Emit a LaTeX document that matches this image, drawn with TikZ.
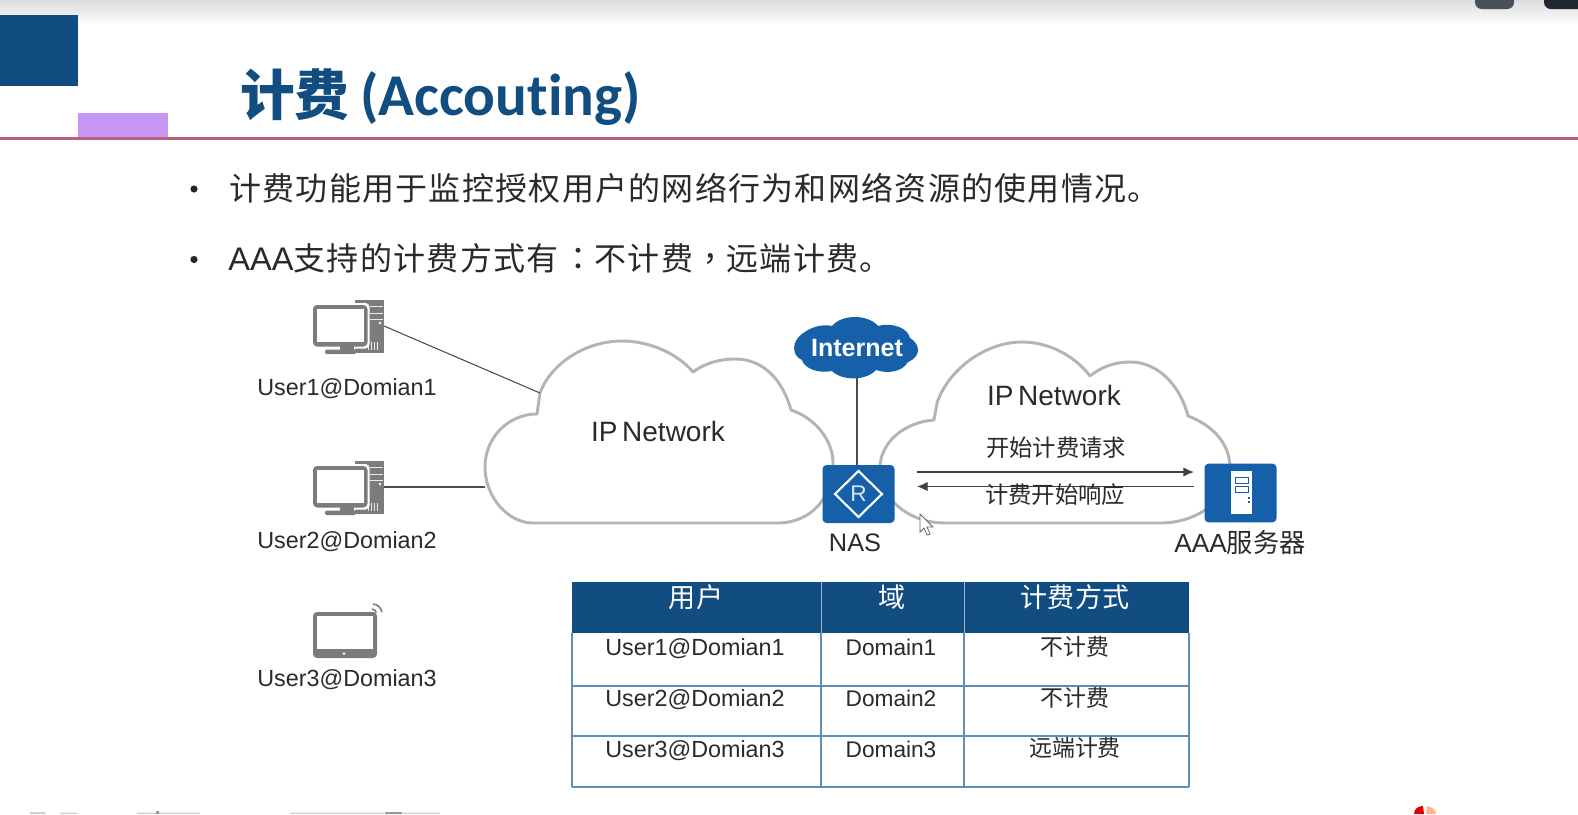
\documentclass[tikz,border=0pt]{standalone}
\usepackage{fontspec}
\setmainfont{Liberation Sans}
\newfontfamily\cjk{Noto Sans CJK SC}
\newfontfamily\cjks{Noto Sans CJK SC}[LetterSpace=4]
\newfontfamily\cjktc{Noto Sans CJK TC}[LetterSpace=4]
\newfontfamily\ttl{Carlito}[Ligatures=NoCommon]
\usetikzlibrary{arrows.meta}
\definecolor{hwblue}{HTML}{114D80}
\definecolor{iconblue}{HTML}{1560A8}
\definecolor{cloudgray}{HTML}{B4B4B4}
\definecolor{icongray}{HTML}{7C7C7C}
\definecolor{bar}{HTML}{C896F5}
\definecolor{rulecol}{HTML}{B8607E}
\definecolor{txt}{HTML}{2A2A2A}
\definecolor{tline}{HTML}{5E8DB5}
\definecolor{btna}{HTML}{4A5057}
\definecolor{btnb}{HTML}{1E2730}
\tikzset{
 lab/.style={font=\fontsize{17.5}{19}\selectfont,text=txt,inner sep=0pt},
 dom/.style={font=\fontsize{17}{19}\selectfont,text=txt,inner sep=0pt},
 cj/.style={font=\cjk\fontsize{17.2}{19}\selectfont,text=txt,inner sep=0pt},
 bul/.style={anchor=west,font=\cjks\fontsize{24}{26}\selectfont,text=txt,inner sep=0pt},
 ipn/.style={inner sep=0pt,text=txt,font=\fontsize{21}{23}\selectfont},
 cloudline/.style={draw=cloudgray,line width=2.2pt,fill=white,line join=round},
 wire/.style={draw=black!70,line width=0.8pt},
 msg/.style={draw=black!75,line width=1pt,-{Latex[length=8pt,width=7pt]}},
 tb/.style={draw=tline,line width=0.8pt},
 th/.style={font=\cjk\fontsize{20.3}{22}\selectfont,text=white,inner sep=0pt},
 foot/.style={fill=black!18},
}
\newcommand{\pcicon}[3]{%
 \begin{scope}[shift={(#1,#2)}]
  \fill[icongray] (43,0) rectangle (72,53);
  \fill[white!85!icongray] (58,6) rectangle (71,7.2);
  \fill[white!85!icongray] (58,13) rectangle (71,14.2);
  \fill[white!85!icongray] (58,19) rectangle (71,20);
  \fill[white] (68,23) circle (1.3);
  \foreach \s in {56,59,62,65} \fill[white!85!icongray] (\s,42) rectangle (\s+1.2,50);
  \fill[white,rounded corners=3pt] (-1,3) rectangle (57.5,48.5);
  \fill[icongray,rounded corners=3pt] (1,5) rectangle (55.5,46.5);
  \fill[white] (5,9) rectangle (51.5,42);
  \fill[icongray] (28,46) rectangle (42,50);
  \fill[icongray,rounded corners=1pt] (13,49.5) rectangle (44,54);
  \coordinate (#3) at (72,26);
 \end{scope}}
\begin{document}
\begin{tikzpicture}[x=0.75pt,y=-0.75pt]
\useasboundingbox (0,0) rectangle (1578,814);
\fill[white] (0,0) rectangle (1578,814);
\shade[top color=black!14,bottom color=white] (0,0) rectangle (1578,25);
\fill[btna,rounded corners=5pt] (1475,-8) rectangle (1514,9);
\fill[btnb,rounded corners=5pt] (1544,-8) rectangle (1590,9);
% header
\fill[hwblue] (0,15) rectangle (78,86);
\fill[bar] (78,113) rectangle (168,138);
\draw[rulecol,line width=1.7pt] (0,138.5) -- (1578,138.5);
\node[anchor=west,inner sep=0pt,text=hwblue] (title) at (240,97) {\fontsize{41}{44}\selectfont\cjk\bfseries 计费\hspace{8pt}\fontsize{44.4}{48}\selectfont\ttl\bfseries(Accouting)};
% bullets
\fill[black!85] (194,189) circle (3.6);
\fill[black!85] (194,259.5) circle (3.6);
\node[bul] (b1) at (229,188) {计费功能用于监控授权用户的网络行为和网络资源的使用情况。};
\node[bul] (b2) at (228,258) {{\fontsize{24.5}{26}\selectfont\rmfamily AAA}支持的计费方式有\hspace{3pt}{\cjktc ：}不计费\hspace{1pt}{\cjktc ，}远端计费。};
% clouds
\path[cloudline] (533,523) -- (777,523) .. controls (812,523) and (833,497) .. (833,463)
 .. controls (833,440) and (815,418) .. (791,410)
 .. controls (782,378) and (762,359) .. (735,359)
 .. controls (718,359) and (704,364) .. (693,372)
 .. controls (678,354) and (650,341) .. (622,341)
 .. controls (584,341) and (550,365) .. (540,393)
 -- (537,414)
 .. controls (508,414) and (485,438) .. (485,467)
 .. controls (485,497) and (508,523) .. (533,523) -- cycle;
\path[cloudline] (945,523) -- (1160,523) .. controls (1200,523) and (1230,497) .. (1230,468)
 .. controls (1230,443) and (1212,425) .. (1188,416)
 .. controls (1180,385) and (1158,362) .. (1130,362)
 .. controls (1113,362) and (1100,368) .. (1090,376)
 .. controls (1074,355) and (1048,342) .. (1022,342)
 .. controls (985,342) and (948,370) .. (937,403)
 -- (934,420)
 .. controls (905,422) and (880,442) .. (880,468)
 .. controls (880,500) and (910,523) .. (945,523) -- cycle;
% Internet cloud
\path[fill=iconblue] (802,334) .. controls (812,326) and (824,324) .. (832,326)
 .. controls (842,314) and (868,314) .. (878,326)
 .. controls (892,322) and (908,328) .. (910,338)
 .. controls (920,344) and (922,356) .. (908,362)
 .. controls (902,372) and (888,374) .. (876,370)
 .. controls (866,381) and (842,381) .. (832,371)
 .. controls (818,374) and (804,368) .. (802,360)
 .. controls (792,356) and (791,342) .. (802,334) -- cycle;
\node[inner sep=0pt,text=white,font=\bfseries\fontsize{18.8}{21}\selectfont] (inet) at (857,348) {Internet};
% NAS
\node[fill=iconblue,rounded corners=3pt,minimum width=54pt,minimum height=43.5pt,inner sep=0pt] (nas) at (858.5,494) {};
\draw[white,line width=1.6pt] (858.5,471) -- (882,494) -- (858.5,517) -- (835,494) -- cycle;
\node[inner sep=0pt,text=white!85!iconblue,font=\fontsize{17}{18}\selectfont] (nasr) at (858.5,494) {R};
\node[inner sep=0pt,text=txt,font=\fontsize{19}{21}\selectfont] (naslab) at (855,543) {NAS};
% AAA
\node[fill=iconblue,rounded corners=3pt,minimum width=54pt,minimum height=44pt,inner sep=0pt] (aaa) at (1240.5,493) {};
\fill[white] (1231,471) rectangle (1252,514);
\draw[iconblue,line width=0.6pt] (1235,477) rectangle (1248,483);
\draw[iconblue,line width=0.6pt] (1235,486) rectangle (1248,492);
\fill[iconblue] (1248,497) rectangle (1250,499);\fill[iconblue] (1248,501) rectangle (1250,503);
\node[inner sep=0pt,text=txt,font=\fontsize{19.7}{21}\selectfont] (aaalab) at (1240,543) {AAA{\cjk 服务器}};
% connectors
\coordinate (inetb) at (857,376);
\draw[wire] (inetb) -- (nas.north -| inetb);
\pcicon{312}{300}{p1}
\pcicon{312}{461}{p2}
\coordinate (c1a) at (540,393);
\coordinate (c1b) at (485,487);
\draw[wire] (p1) -- (c1a);
\draw[wire] (p2) -- (c1b);
% tablet
\fill[icongray,rounded corners=3pt] (313,612) rectangle (377,658);
\fill[white] (317,616) rectangle (373,649);
\fill[white] (344,653.5) circle (1.5);
\draw[icongray,line width=1.2pt] (372,609) arc[start angle=-85,end angle=-15,radius=5];
\draw[icongray,line width=1.2pt] (373,604) arc[start angle=-85,end angle=-10,radius=10];
% labels
\node[lab] (u1) at (347,388.5) {User1@Domian1};
\node[lab] (u2) at (347,542) {User2@Domian2};
\node[lab] (u3) at (347,679.5) {User3@Domian3};
\node[ipn] (ip1) at (658,431.5) {IP\,Network};
\node[ipn] (ip2) at (1054,395) {IP\,Network};
\node[cj,font=\cjk\fontsize{17.5}{19}\selectfont] (req) at (1056,448) {开始计费请求};
\coordinate (ms) at (917,472);
\coordinate (me) at (1194,472);
\coordinate (rs) at (1194,486.5);
\coordinate (re) at (917,486.5);
\draw[msg] (ms) -- (me);
\draw[msg] (rs) -- (re);
\node[cj,font=\cjk\fontsize{17.5}{19}\selectfont] (resp) at (1055,495) {计费开始响应};
% cursor
\path[fill=white,draw=black!60,line width=0.6pt] (920,514) -- (920,532) -- (924,528) -- (927,535) -- (930,534) -- (927,527) -- (933,527) -- cycle;
% table
\fill[hwblue] (572,582) rectangle (1189,633);
\draw[white!60!hwblue,line width=0.7pt] (821,582) -- (821,633) (964,582) -- (964,633);
\foreach \y in {686,736} \draw[tb] (572,\y) -- (1189,\y);
\draw[tb,line width=1.2pt] (572,787) -- (1189,787);
\foreach \x in {572,821,964,1189} \draw[tb] (\x,633) -- (\x,787);
\node[th] (h1) at (696,597) {用户};
\node[th] (h2) at (892,597) {域};
\node[th] (h3) at (1075,597) {计费方式};
\node[lab] (r11) at (695,648.5) {User1@Domian1};
\node[dom] (r12) at (891,647.5) {Domain1};
\node[cj] (r13) at (1075,647) {不计费};
\node[lab] (r21) at (695,699.5) {User2@Domian2};
\node[dom] (r22) at (891,698.5) {Domain2};
\node[cj] (r23) at (1075,698) {不计费};
\node[lab] (r31) at (695,750.5) {User3@Domian3};
\node[dom] (r32) at (891,749.5) {Domain3};
\node[cj] (r33) at (1075,748) {远端计费};
% cut-off footer at the page edge
\fill[foot] (30,812) rectangle (45,814) (60,812.5) rectangle (77,814) (137,812.5) rectangle (200,814) (290,812.5) rectangle (384,814) (403,812.5) rectangle (440,814);
\fill[black!40] (156,811) rectangle (159,814) (385,812) rectangle (402,814);
\fill[red!90!black] (1414,814) .. controls (1414,809) and (1418,806) .. (1423,806) -- (1424,814) -- cycle;
\fill[red!30!orange!45!white] (1426,814) -- (1427,806) .. controls (1432,807) and (1436,810) .. (1436,814) -- cycle;
\end{tikzpicture}
\end{document}
